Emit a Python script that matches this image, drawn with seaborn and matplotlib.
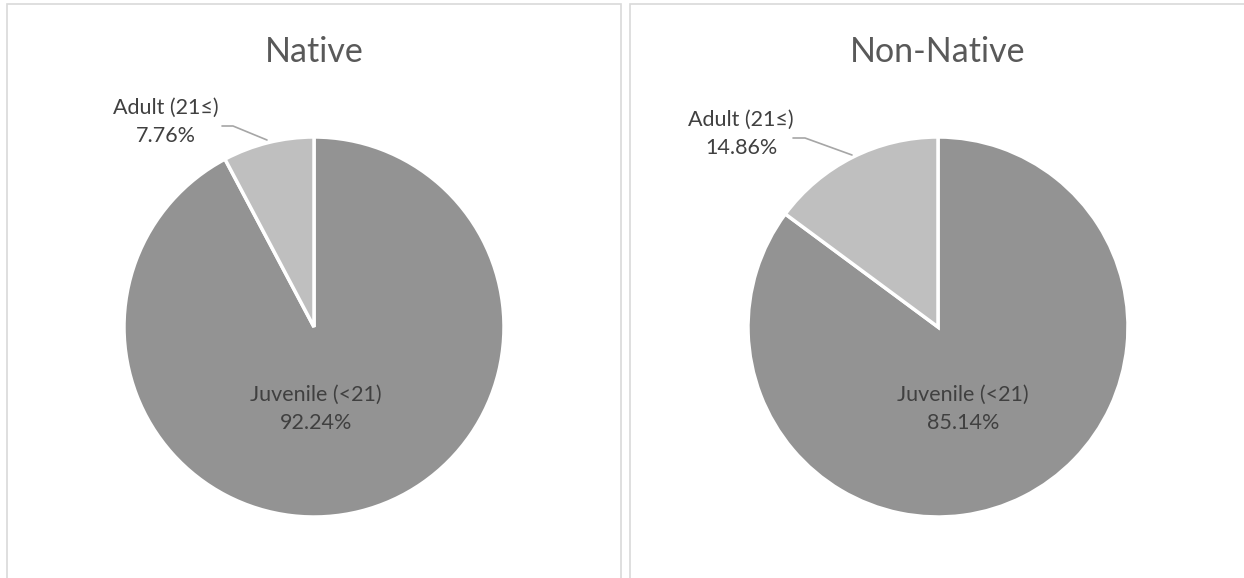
import matplotlib
matplotlib.use("Agg")
import matplotlib.pyplot as plt
import seaborn as sns
from matplotlib.patches import Rectangle

sns.set_theme(style="white")
plt.rcParams['font.family'] = ['Lato', 'DejaVu Sans']

groups = ["Native", "Non-Native"]
categories = ["Juvenile (<21)", "Adult (21\u2264)"]
native_vals = [92.24, 7.76]
nonnative_vals = [85.14, 14.86]
series = [native_vals, nonnative_vals]
colors = ["#939393", "#BFBFBF"]

W, H = 1244, 578
fig = plt.figure(figsize=(W / 100, H / 100), dpi=100)
fig.patch.set_facecolor("white")

# panel borders
for (x0, x1) in [(7, 621), (630, 1260)]:
    fig.patches.append(Rectangle((x0 / W, -0.1), (x1 - x0) / W, (H - 4) / H + 0.1,
                                 transform=fig.transFigure, fill=False,
                                 edgecolor="#D9D9D9", linewidth=1.2))

centers = [(314, 327), (938, 327)]
R = 190
# label placements (pixel coords) for juvenile and adult labels
juv_pos = [(316, 409), (963, 409)]
adult_pos = [(166, 122), (741, 134)]
leaders = [[(222, 126), (233, 126), (267, 140)],
           [(793, 138), (805, 138), (852, 155)]]

for i, (g, vals) in enumerate(zip(groups, series)):
    cx, cy = centers[i]
    ax = fig.add_axes([(cx - R) / W, (H - cy - R) / H, 2 * R / W, 2 * R / H])
    ax.pie(vals, colors=colors, startangle=90, counterclock=False,
           wedgeprops=dict(edgecolor="white", linewidth=2.5))
    ax.set_xlim(-1, 1)
    ax.set_ylim(-1, 1)
    ax.set_aspect("equal")
    ax.axis("off")

    def d(p):
        return ((p[0] - cx) / R, (cy - p[1]) / R)

    jx, jy = d(juv_pos[i])
    ax.text(jx, jy, f"{categories[0]}\n{vals[0]:.2f}%", ha="center", va="center",
            fontsize=15.5, color="#404040", linespacing=1.55)
    axx, ayy = d(adult_pos[i])
    ax.text(axx, ayy, f"{categories[1]}\n{vals[1]:.2f}%", ha="center", va="center",
            fontsize=15.5, color="#404040", linespacing=1.55, clip_on=False)
    pts = [d(p) for p in leaders[i]]
    ax.plot([p[0] for p in pts], [p[1] for p in pts], color="#A6A6A6",
            linewidth=1.2, clip_on=False)

    fig.text(cx / W, 1 - 62 / H, g, ha="center", va="baseline",
             fontsize=24.5, color="#595959")

fig.savefig("out.png", dpi=100, facecolor="white")
